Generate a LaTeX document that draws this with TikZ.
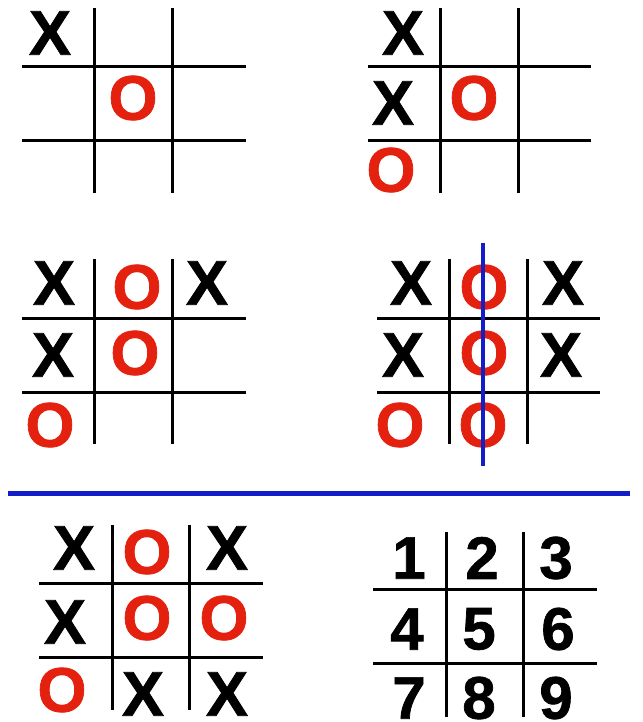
\documentclass[tikz,border=0pt]{standalone}
\usepackage{fontspec}
\setmainfont{Liberation Sans}[BoldFeatures={FakeBold=1.2}]
\definecolor{ored}{RGB}{228,32,14}
\definecolor{wblue}{RGB}{20,30,200}
\tikzset{
  gridline/.style={line width=3pt, black},
  winline/.style={line width=4pt, wblue},
  xmark/.style={font=\fontsize{63}{63}\selectfont\bfseries, inner sep=0pt, text=black},
  omark/.style={xmark, text=ored},
  num/.style={font=\fontsize{60}{60}\selectfont\bfseries, inner sep=0pt, text=black}
}
\begin{document}
\begin{tikzpicture}[x=1pt,y=-1pt]
\useasboundingbox (0,0) rectangle (642,722);
\clip (0,0) rectangle (642,722);
% Board 1
\draw[gridline] (94,8) -- (94,193) (172,8) -- (172,193) (22,67) -- (246,67) (22,141) -- (246,141);
\node[xmark] (b1x1) at (50,33) {X};
\node[omark] (b1o1) at (133,98) {O};
% Board 2
\draw[gridline] (440,8) -- (440,193) (518,8) -- (518,193) (368,67) -- (591,67) (368,141) -- (591,141);
\node[xmark] (b2x1) at (403,33) {X};
\node[xmark] (b2x2) at (393,103) {X};
\node[omark] (b2o1) at (474,98) {O};
\node[omark] (b2o2) at (391,170) {O};
% Board 3
\draw[gridline] (94,259) -- (94,444) (172,259) -- (172,444) (22,318) -- (246,318) (22,392) -- (246,392);
\node[xmark] (b3x1) at (54,283) {X};
\node[omark] (b3o1) at (137,287) {O};
\node[xmark] (b3x2) at (207,283) {X};
\node[xmark] (b3x3) at (53,355) {X};
\node[omark] (b3o2) at (135,353) {O};
\node[omark] (b3o3) at (50,425) {O};
% Board 4
\draw[gridline] (449,259) -- (449,444) (527,259) -- (527,444) (377,318) -- (600,318) (377,392) -- (600,392);
\node[xmark] (b4x1) at (411,283) {X};
\node[omark] (b4o1) at (484,287) {O};
\node[xmark] (b4x2) at (563,283) {X};
\node[xmark] (b4x3) at (403,355) {X};
\node[omark] (b4o2) at (484,353) {O};
\node[xmark] (b4x4) at (561,355) {X};
\node[omark] (b4o3) at (400,425) {O};
\node[omark] (b4o4) at (483,425) {O};
\coordinate (w1) at (483,243);
\coordinate (w2) at (483,466);
\draw[winline] (w1) -- (w2);
% Separator
\coordinate (s1) at (8,493);
\coordinate (s2) at (630,493);
\draw[line width=5pt, wblue] (s1) -- (s2);
% Board 5
\draw[gridline] (112,525) -- (112,710) (189,525) -- (189,710) (39,583) -- (263,583) (39,657) -- (263,657);
\node[xmark] (b5x1) at (74,548) {X};
\node[omark] (b5o1) at (147,552) {O};
\node[xmark] (b5x2) at (227,548) {X};
\node[xmark] (b5x3) at (65,622) {X};
\node[omark] (b5o2) at (147,618) {O};
\node[omark] (b5o3) at (224,618) {O};
\node[omark] (b5o4) at (62,690) {O};
\node[xmark] (b5x4) at (143,694) {X};
\node[xmark] (b5x5) at (227,694) {X};
% Board 6
\draw[gridline] (446,532) -- (446,717) (523,532) -- (523,717) (373,589) -- (597,589) (373,663) -- (597,663);
\node[num] (n1) at (409,558) {1};
\node[num] (n2) at (482,558) {2};
\node[num] (n3) at (556,558) {3};
\node[num] (n4) at (407,629) {4};
\node[num] (n5) at (479,629) {5};
\node[num] (n6) at (558,629) {6};
\node[num] (n7) at (409,698) {7};
\node[num] (n8) at (479,698) {8};
\node[num] (n9) at (556,698) {9};
\end{tikzpicture}
\end{document}
